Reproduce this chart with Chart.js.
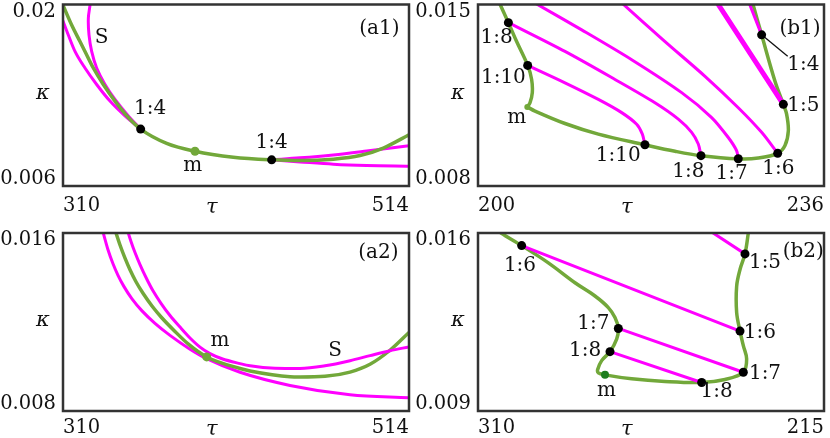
<!DOCTYPE html>
<html><head><meta charset="utf-8">
<script src="https://cdn.jsdelivr.net/npm/chart.js@4"></script>
<style>
html,body{margin:0;padding:0;background:#fff;}
#wrap{position:relative;width:830px;height:438px;overflow:hidden;}
canvas{position:absolute;}
</style></head><body>
<div id="wrap">
<canvas id="a1" width="415" height="219" style="left:0;top:0"></canvas>
<canvas id="b1" width="415" height="219" style="left:415px;top:0"></canvas>
<canvas id="a2" width="415" height="219" style="left:0;top:219px"></canvas>
<canvas id="b2" width="415" height="219" style="left:415px;top:219px"></canvas>
</div>
<script>
// ---------- axis tick labels (ordered min -> max value) ----------
const a1XTicks = ['310', '514'];
const a1YTicks = ['0.006', '0.02'];
const b1XTicks = ['200', '236'];
const b1YTicks = ['0.008', '0.015'];
const a2XTicks = ['310', '514'];
const a2YTicks = ['0.008', '0.016'];
const b2XTicks = ['215', '310'];
const b2YTicks = ['0.009', '0.016'];

// ---------- panel a1 : [tau, kappa] ----------
const a1Green = [[310,0.01995],[315.11,0.01842],[320.02,0.01714],[322.97,0.01638],[327.88,0.01510],[333.78,0.01383],[340.66,0.01255],[348.52,0.01128],[355.79,0.01039],[371.12,0.00929],[387.83,0.00868],[410.43,0.00822],[433.03,0.00802],[449.73,0.00796],[469.39,0.00807],[485.11,0.00835],[498.87,0.00893],[514,0.00995]];
const a1MagLeft = [[310,0.01873],[313.14,0.01765],[317.08,0.01638],[322.97,0.01510],[329.85,0.01383],[337.71,0.01255],[346.55,0.01141],[355.79,0.01039]];
const a1MagS = [[326.1,0.0203],[325.92,0.01995],[324.94,0.01893],[325.33,0.01765],[326.90,0.01638],[329.85,0.01510],[334.76,0.01383],[340.66,0.01268],[348.52,0.01141],[355.79,0.01039]];
const a1MagUp = [[433.03,0.00802],[449.73,0.00817],[469.39,0.00840],[489.04,0.00870],[514,0.00911]];
const a1MagLow = [[433.03,0.00802],[449.73,0.00786],[469.39,0.00768],[489.04,0.00758],[514,0.00753]];
const a1Dots = [[355.79,0.01039],[433.03,0.00802]];
const a1M = [[387.83,0.00868]];
const a1Labels = [['1:4',361.3,0.01192],['1:4',433.0,0.00937],['m',386.5,0.00758],['S',332.8,0.0174],['(a1)',496.5,0.01816]];

// ---------- panel b1 ----------
const b1GreenUpper = [[202.18,0.0151],[203.16,0.0143],[204.02,0.01357],[205.17,0.01265],[205.58,0.01211],[205.65,0.01160],[205.41,0.01121],[205.13,0.01105]];
const b1GreenLower = [[205.13,0.01105],[205.93,0.01089],[209.05,0.01041],[212.52,0.01000],[217.37,0.00959],[220.50,0.00934],[223.20,0.00917],[227.08,0.00905],[229.16,0.00908],[231.18,0.00926],[231.94,0.00956],[232.29,0.01013],[232.11,0.01077],[231.77,0.01115],[230.90,0.01204],[229.51,0.01383],[228.54,0.0151]];
const b1Mag8 = [[203.16,0.0143],[209.05,0.01319],[214.25,0.01211],[218.41,0.01121],[220.84,0.01058],[222.23,0.01007],[222.92,0.00962],[223.20,0.00917]];
const b1Mag10 = [[205.17,0.01265],[209.05,0.01198],[212.52,0.01134],[214.95,0.01083],[216.51,0.01038],[217.10,0.01000],[217.37,0.00959]];
const b1Mag7 = [[206.0,0.01504],[210.79,0.01402],[215.99,0.01287],[221.19,0.0116],[224.31,0.01064],[226.04,0.00987],[226.91,0.00936],[227.08,0.00905]];
const b1Mag6 = [[215.02,0.01504],[219.46,0.01357],[223.62,0.01223],[227.08,0.01102],[229.51,0.01007],[231.18,0.00926]];
const b1Mag5 = [[224.93,0.01504],[231.77,0.01115]];
const b1Mag4 = [[228.23,0.01504],[229.51,0.01383]];
const b1Dots = [[203.16,0.0143],[205.17,0.01265],[217.37,0.00959],[223.20,0.00917],[227.08,0.00905],[231.18,0.00926],[231.77,0.01115],[229.51,0.01383]];
const b1M = [[205.13,0.01105]];
const b1Leader = [[229.51,0.01383,232.22,0.0130]];
const b1Labels = [['1:8',201.94,0.0137],['1:10',202.64,0.01217],['m',204.02,0.01064],['1:10',214.6,0.00917],['1:8',221.88,0.00854],['1:7',226.39,0.00847],['1:6',231.25,0.00866],['1:5',233.85,0.01109],['1:4',233.85,0.01268],['(b1)',233.5,0.01408]];

// ---------- panel a2 ----------
const a2MagLow = [[333.35,0.01611],[336.53,0.01525],[339.48,0.01462],[342.43,0.01410],[345.97,0.01359],[350.68,0.01304],[356.58,0.01250],[364.24,0.01194],[373.09,0.01140],[384.88,0.01078],[394.73,0.01035],[414.37,0.00974],[443.84,0.00915],[479.22,0.00873],[514,0.00860]];
const a2Green = [[340.95,0.01607],[343.61,0.01546],[346.56,0.01487],[349.50,0.01435],[353.04,0.01381],[357.17,0.01329],[362.47,0.01272],[368.37,0.01218],[375.45,0.01162],[384.29,0.01098],[394.73,0.01043],[414.37,0.00991],[420.26,0.00980],[443.84,0.00954],[449.74,0.00953],[464.48,0.00956],[479.22,0.00975],[491.01,0.01010],[502.80,0.01073],[514,0.01153]];
const a2MagUp = [[348.03,0.01611],[350.09,0.01562],[352.45,0.01512],[355.40,0.01458],[358.94,0.01400],[363.06,0.01340],[367.78,0.01284],[373.09,0.01229],[378.98,0.01177],[384.88,0.01128],[390.78,0.01087],[396.67,0.01058],[403.75,0.01035],[414.36,0.01013],[420.26,0.01003],[435.0,0.00992],[449.74,0.00991],[464.48,0.01003],[479.22,0.01026],[491.01,0.01049],[502.80,0.01071],[514,0.01088]];
const a2M = [[394.73,0.01043]];
const a2Labels = [['m',402.6,0.01117],['S',470.4,0.01072],['(a2)',495.9,0.01513]];

// ---------- panel b2 ----------
const b2Green = [[304.5,0.0161],[303.69,0.016],[298.01,0.015505],[290.69,0.014827],[283.37,0.014045],[277.88,0.013523],[274.22,0.013067],[272.39,0.012676],[271.47,0.012246],[271.93,0.011829],[273.76,0.011334],[276.05,0.010981],[277.14,0.01063],[276.96,0.0105],[275.13,0.010421],[267.81,0.010265],[258.66,0.01016],[248.59,0.010121],[242.18,0.010239],[237.15,0.010525],[236.24,0.011047],[237.15,0.011568],[238.06,0.012142],[238.98,0.012872],[238.98,0.013914],[238.06,0.014566],[236.69,0.015179],[235.78,0.016],[235.7,0.0161]];
const b2Mag6 = [[298.01,0.015505],[238.06,0.012142]];
const b2Mag7 = [[271.47,0.012246],[237.15,0.010525]];
const b2Mag8 = [[273.76,0.011334],[248.59,0.010121]];
const b2Mag5 = [[246.5,0.0161],[236.69,0.015179]];
const b2Dots = [[298.01,0.015505],[236.69,0.015179],[271.47,0.012246],[238.06,0.012142],[273.76,0.011334],[237.15,0.010525],[248.59,0.010121]];
const b2M = [[275.13,0.010421]];
const b2Labels = [['1:6',298.47,0.0147],['1:5',231.2,0.01483],['(b2)',220.7,0.01528],['1:7',278.3,0.01242],['1:8',280.6,0.01137],['1:6',232.6,0.01209],['1:7',231.2,0.01046],['m',274.7,0.00981],['1:8',244.5,0.00974]];

// ---------- styling helpers ----------
const FONT = 'DejaVu Serif';
const GREEN = '#72a83a';
const MAG = '#ff00ff';
const DARKGREEN = '#1d7d1d';

function pts(arr) { return arr.map(p => ({x: p[0], y: p[1]})); }
function lineDS(arr, color, width, tension, order, mono) {
  const ds = {data: pts(arr), showLine: true, borderColor: color, borderWidth: width, tension: tension,
          pointRadius: 0, pointHoverRadius: 0, fill: false, order: order, borderCapStyle: 'round', borderJoinStyle: 'round'};
  if (mono) ds.cubicInterpolationMode = 'monotone';
  return ds;
}
function dotDS(arr, color, r) {
  return {data: pts(arr), showLine: false, pointRadius: r, pointHoverRadius: r, pointBackgroundColor: color,
          pointBorderColor: color, pointBorderWidth: 0, order: 0};
}

const deco = {
  id: 'deco',
  beforeDatasetsDraw(chart, args, opts) {
    const {ctx, scales: {x, y}} = chart;
    ctx.save();
    ctx.strokeStyle = '#111'; ctx.lineWidth = 1.3;
    (opts.leaders || []).forEach(l => {
      ctx.beginPath();
      ctx.moveTo(x.getPixelForValue(l[0]), y.getPixelForValue(l[1]));
      ctx.lineTo(x.getPixelForValue(l[2]), y.getPixelForValue(l[3]));
      ctx.stroke();
    });
    ctx.restore();
  },
  afterDatasetsDraw(chart, args, opts) {
    const {ctx, chartArea: a, scales: {x, y}} = chart;
    ctx.save();
    ctx.font = '20px "' + FONT + '"';
    ctx.fillStyle = '#111'; ctx.textAlign = 'center'; ctx.textBaseline = 'middle';
    (opts.labels || []).forEach(l => ctx.fillText(l[0], x.getPixelForValue(l[1]), y.getPixelForValue(l[2])));
    ctx.strokeStyle = '#333'; ctx.lineWidth = 2.5;
    ctx.strokeRect(a.left, a.top, a.right - a.left, a.bottom - a.top);
    ctx.font = 'italic 21px "' + FONT + '"';
    ctx.textBaseline = 'alphabetic';
    ctx.fillText('\u03C4', a.left + 0.43 * (a.right - a.left), a.bottom + opts.tauDy);
    ctx.fillText('\u03BA', a.left - 20, (a.top + a.bottom) / 2 + 4);
    ctx.restore();
  }
};

function makeChart(id, cfg) {
  return new Chart(document.getElementById(id), {
    type: 'scatter',
    data: {datasets: cfg.datasets},
    options: {
      responsive: false, animation: false, devicePixelRatio: 1,
      events: [],
      layout: {padding: {left: 0, right: 6, top: cfg.top, bottom: 0}},
      plugins: {legend: {display: false}, tooltip: {enabled: false},
                deco: {labels: cfg.labels, leaders: cfg.leaders || [], tauDy: cfg.tauDy}},
      scales: {
        x: {
          type: 'linear', min: cfg.xMin, max: cfg.xMax, reverse: !!cfg.xReverse,
          grid: {display: false, drawTicks: false}, border: {display: false},
          afterBuildTicks: s => { s.ticks = [{value: s.min}, {value: s.max}]; },
          afterFit: s => { s.height = cfg.xH; s.paddingLeft = 0; s.paddingRight = 0; },
          ticks: {align: 'inner', padding: cfg.xPad, color: '#111', maxRotation: 0, autoSkip: false,
                  font: {family: FONT, size: 19.5},
                  callback: (v, i) => cfg.xTicks[i]}
        },
        y: {
          type: 'linear', min: cfg.yMin, max: cfg.yMax,
          grid: {display: false, drawTicks: false}, border: {display: false},
          afterBuildTicks: s => { s.ticks = [{value: s.min}, {value: s.max}]; },
          afterFit: s => { s.width = 63; s.paddingTop = 0; s.paddingBottom = 0; },
          ticks: {padding: 7, color: '#111', autoSkip: false,
                  font: {family: FONT, size: 19.5, lineHeight: '14px'},
                  callback: (v, i) => i === 0 ? [cfg.yTicks[0], ''] : ['', cfg.yTicks[1]]}
        }
      }
    },
    plugins: [deco]
  });
}

makeChart('a1', {
  xMin: 310, xMax: 514, yMin: 0.006, yMax: 0.02, xTicks: a1XTicks, yTicks: a1YTicks,
  top: 3, xH: 33, xPad: 8, tauDy: 27, labels: a1Labels,
  datasets: [
    dotDS(a1Dots, '#000', 4.5), dotDS(a1M, GREEN, 4.5),
    lineDS(a1Green, GREEN, 3.5, 0.4, 1, true),
    lineDS(a1MagLeft, MAG, 3, 0.4, 2, true), lineDS(a1MagS, MAG, 3, 0.4, 2),
    lineDS(a1MagUp, MAG, 3, 0.4, 2, true), lineDS(a1MagLow, MAG, 3, 0.4, 2, true)
  ]
});

makeChart('b1', {
  xMin: 200, xMax: 236, yMin: 0.008, yMax: 0.015, xTicks: b1XTicks, yTicks: b1YTicks,
  top: 3, xH: 33, xPad: 8, tauDy: 27, labels: b1Labels, leaders: b1Leader,
  datasets: [
    dotDS(b1Dots, '#000', 4.5), dotDS(b1M, GREEN, 3),
    lineDS(b1Mag8, MAG, 3, 0.3, 1), lineDS(b1Mag10, MAG, 3, 0.3, 1),
    lineDS(b1Mag7, MAG, 3, 0.3, 1), lineDS(b1Mag6, MAG, 3, 0.3, 1),
    lineDS(b1Mag5, MAG, 5, 0, 1), lineDS(b1Mag4, MAG, 3, 0, 1),
    lineDS(b1GreenUpper, GREEN, 3.5, 0.35, 2), lineDS(b1GreenLower, GREEN, 3.5, 0.35, 2)
  ]
});

makeChart('a2', {
  xMin: 310, xMax: 514, yMin: 0.008, yMax: 0.016, xTicks: a2XTicks, yTicks: a2YTicks,
  top: 14, xH: 27, xPad: 5, tauDy: 24, labels: a2Labels,
  datasets: [
    dotDS(a2M, GREEN, 4.5),
    lineDS(a2MagUp, MAG, 3, 0.4, 1, true), lineDS(a2Green, GREEN, 3.5, 0.4, 2, true),
    lineDS(a2MagLow, MAG, 3, 0.4, 2, true)
  ]
});

makeChart('b2', {
  xMin: 215, xMax: 310, xReverse: true, yMin: 0.009, yMax: 0.016, xTicks: b2XTicks, yTicks: b2YTicks,
  top: 14, xH: 27, xPad: 5, tauDy: 24, labels: b2Labels,
  datasets: [
    dotDS(b2Dots, '#000', 4.5), dotDS(b2M, DARKGREEN, 4),
    lineDS(b2Mag6, MAG, 3, 0, 1), lineDS(b2Mag7, MAG, 3, 0, 1),
    lineDS(b2Mag8, MAG, 3, 0, 1), lineDS(b2Mag5, MAG, 3, 0, 1),
    lineDS(b2Green, GREEN, 3.5, 0.35, 2)
  ]
});
</script>
</body></html>
